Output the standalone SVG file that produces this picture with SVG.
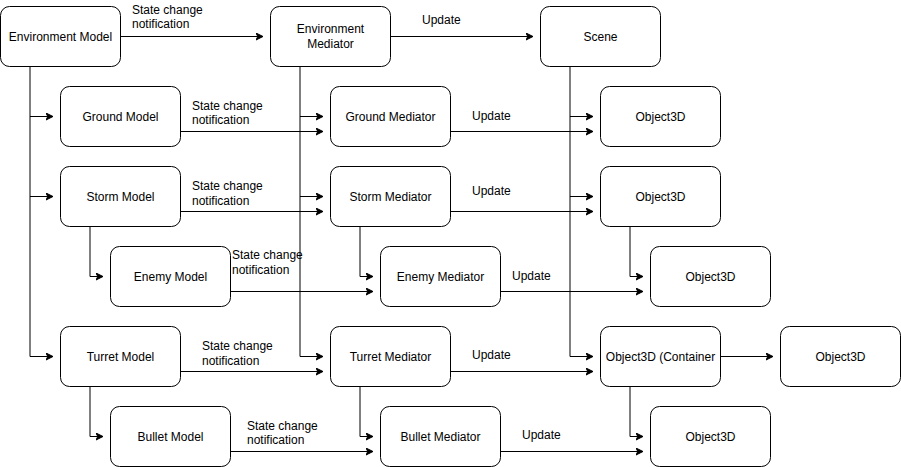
<svg xmlns="http://www.w3.org/2000/svg" width="901" height="467" viewBox="0 0 901 467">
<style>
.n rect{fill:#fff;stroke:#000;stroke-width:1}
text{font-family:"Liberation Sans",Arial,sans-serif;font-size:12px;fill:#000}
.c{text-anchor:middle}
.e path{fill:none;stroke:#000;stroke-width:1}
</style>
<defs>
<marker id="a" markerWidth="10" markerHeight="10" refX="7" refY="3.5" orient="auto" markerUnits="userSpaceOnUse">
<path d="M0,0 L7,3.5 L0,7 L1.75,3.5 Z" fill="#000" stroke="#000" stroke-width="1"/>
</marker>
</defs>
<rect width="901" height="467" fill="#fff"/>
<g class="e" id="connectors">
<path d="M120,36.5 H263" marker-end="url(#a)"/>
<path d="M390,36.5 H533" marker-end="url(#a)"/>
<path d="M30,66.5 V356.5 H53" marker-end="url(#a)"/>
<path d="M30,116.5 H53" marker-end="url(#a)"/>
<path d="M30,196.5 H53" marker-end="url(#a)"/>
<path d="M300,66.5 V356.5 H323" marker-end="url(#a)"/>
<path d="M300,116.5 H323" marker-end="url(#a)"/>
<path d="M300,196.5 H323" marker-end="url(#a)"/>
<path d="M570,66.5 V356.5 H593" marker-end="url(#a)"/>
<path d="M570,116.5 H593" marker-end="url(#a)"/>
<path d="M570,196.5 H593" marker-end="url(#a)"/>
<path d="M180,131.5 H323" marker-end="url(#a)"/>
<path d="M450,131.5 H593" marker-end="url(#a)"/>
<path d="M180,211.5 H323" marker-end="url(#a)"/>
<path d="M450,211.5 H593" marker-end="url(#a)"/>
<path d="M90,226.5 V276.5 H103" marker-end="url(#a)"/>
<path d="M360,226.5 V276.5 H373" marker-end="url(#a)"/>
<path d="M630,226.5 V276.5 H643" marker-end="url(#a)"/>
<path d="M230,291.5 H373" marker-end="url(#a)"/>
<path d="M500,291.5 H643" marker-end="url(#a)"/>
<path d="M180,371.5 H323" marker-end="url(#a)"/>
<path d="M450,371.5 H593" marker-end="url(#a)"/>
<path d="M720,356.5 H773" marker-end="url(#a)"/>
<path d="M90,386.5 V436.5 H103" marker-end="url(#a)"/>
<path d="M360,386.5 V436.5 H373" marker-end="url(#a)"/>
<path d="M630,386.5 V436.5 H643" marker-end="url(#a)"/>
<path d="M230,451.5 H373" marker-end="url(#a)"/>
<path d="M500,451.5 H643" marker-end="url(#a)"/>
</g>
<g id="labels">
<text x="132" y="14">State change</text><text x="132" y="28">notification</text>
<text x="422" y="24">Update</text>
<text x="192" y="110">State change</text><text x="192" y="124">notification</text>
<text x="472" y="120">Update</text>
<text x="192" y="190">State change</text><text x="192" y="205">notification</text>
<text x="472" y="195">Update</text>
<text x="232" y="259">State change</text><text x="232" y="274">notification</text>
<text x="512" y="280">Update</text>
<text x="202" y="350">State change</text><text x="202" y="365">notification</text>
<text x="472" y="359">Update</text>
<text x="247" y="430">State change</text><text x="247" y="444">notification</text>
<text x="522" y="439">Update</text>
</g>
<g class="n" id="env-model"><rect x="0.5" y="6.5" width="120" height="60" rx="9"/><text class="c" x="60.5" y="41">Environment Model</text></g>
<g class="n" id="env-mediator"><rect x="270.5" y="6.5" width="120" height="60" rx="9"/><text class="c" x="330.5" y="33">Environment</text><text class="c" x="330.5" y="48">Mediator</text></g>
<g class="n" id="scene"><rect x="540.5" y="6.5" width="120" height="60" rx="9"/><text class="c" x="600.5" y="41">Scene</text></g>
<g class="n" id="ground-model"><rect x="60.5" y="86.5" width="120" height="60" rx="9"/><text class="c" x="120.5" y="121">Ground Model</text></g>
<g class="n" id="ground-mediator"><rect x="330.5" y="86.5" width="120" height="60" rx="9"/><text class="c" x="390.5" y="121">Ground Mediator</text></g>
<g class="n" id="obj-ground"><rect x="600.5" y="86.5" width="120" height="60" rx="9"/><text class="c" x="660.5" y="121">Object3D</text></g>
<g class="n" id="storm-model"><rect x="60.5" y="166.5" width="120" height="60" rx="9"/><text class="c" x="120.5" y="201">Storm Model</text></g>
<g class="n" id="storm-mediator"><rect x="330.5" y="166.5" width="120" height="60" rx="9"/><text class="c" x="390.5" y="201">Storm Mediator</text></g>
<g class="n" id="obj-storm"><rect x="600.5" y="166.5" width="120" height="60" rx="9"/><text class="c" x="660.5" y="201">Object3D</text></g>
<g class="n" id="enemy-model"><rect x="110.5" y="246.5" width="120" height="60" rx="9"/><text class="c" x="170.5" y="281">Enemy Model</text></g>
<g class="n" id="enemy-mediator"><rect x="380.5" y="246.5" width="120" height="60" rx="9"/><text class="c" x="440.5" y="281">Enemy Mediator</text></g>
<g class="n" id="obj-enemy"><rect x="650.5" y="246.5" width="120" height="60" rx="9"/><text class="c" x="710.5" y="281">Object3D</text></g>
<g class="n" id="turret-model"><rect x="60.5" y="326.5" width="120" height="60" rx="9"/><text class="c" x="120.5" y="361">Turret Model</text></g>
<g class="n" id="turret-mediator"><rect x="330.5" y="326.5" width="120" height="60" rx="9"/><text class="c" x="390.5" y="361">Turret Mediator</text></g>
<g class="n" id="obj-container"><rect x="600.5" y="326.5" width="120" height="60" rx="9"/><text class="c" x="660.5" y="361">Object3D (Container</text></g>
<g class="n" id="obj-child"><rect x="780.5" y="326.5" width="120" height="60" rx="9"/><text class="c" x="840.5" y="361">Object3D</text></g>
<g class="n" id="bullet-model"><rect x="110.5" y="406.5" width="120" height="60" rx="9"/><text class="c" x="170.5" y="441">Bullet Model</text></g>
<g class="n" id="bullet-mediator"><rect x="380.5" y="406.5" width="120" height="60" rx="9"/><text class="c" x="440.5" y="441">Bullet Mediator</text></g>
<g class="n" id="obj-bullet"><rect x="650.5" y="406.5" width="120" height="60" rx="9"/><text class="c" x="710.5" y="441">Object3D</text></g>
</svg>
